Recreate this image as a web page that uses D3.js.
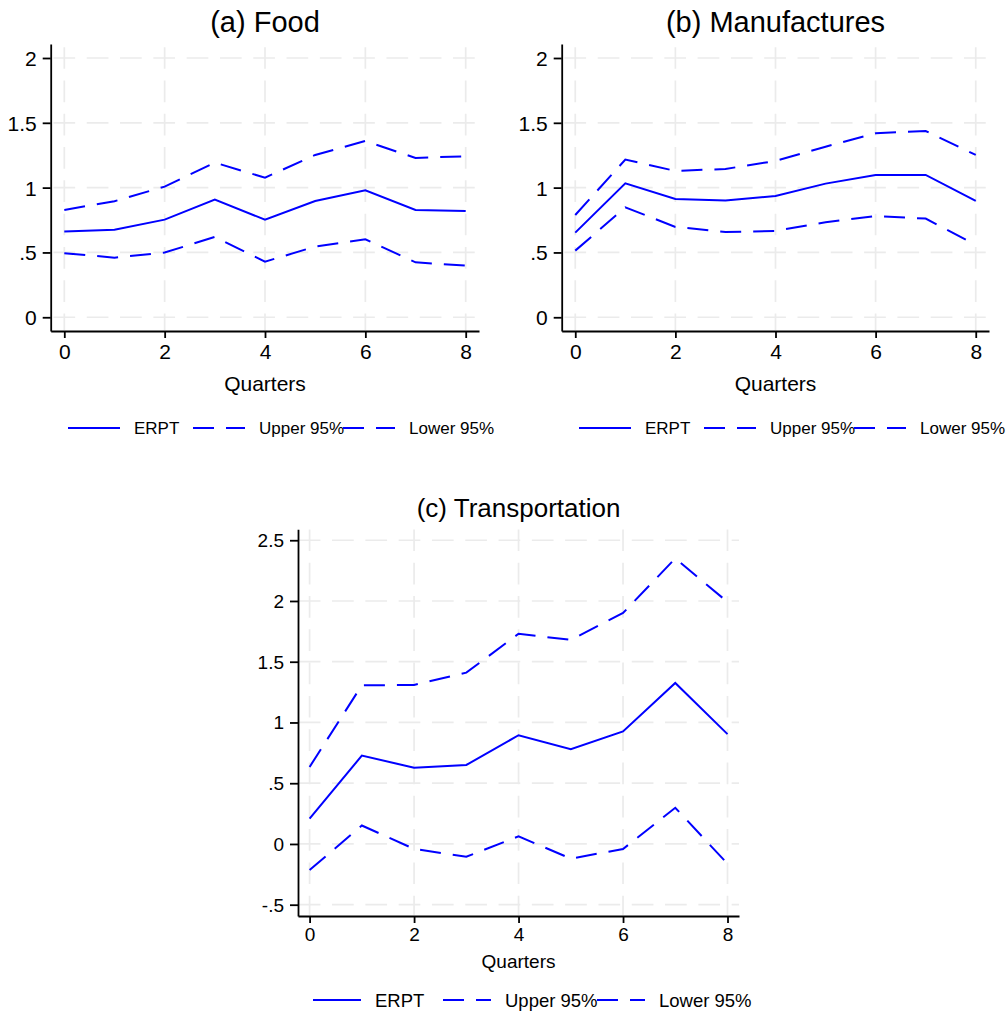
<!DOCTYPE html>
<html>
<head>
<meta charset="utf-8">
<script src="https://cdn.jsdelivr.net/npm/d3@7"></script>
<style>
  body { margin: 0; background: #fff; }
  text { font-family: Arial, "Liberation Sans", sans-serif; fill: #000; }
</style>
</head>
<body>
<div id="chart"></div>
<script>
"use strict";

const WIDTH = 1008, HEIGHT = 1013;

// quarters after the shock
var quarters = [0, 1, 2, 3, 4, 5, 6, 7, 8];
var seriesNames = ["ERPT", "Upper 95%", "Lower 95%"];

// (a) Food
var foodERPT  = [0.661, 0.676, 0.753, 0.907, 0.753, 0.897, 0.979, 0.828, 0.820];
var foodUpper = [0.828, 0.895, 1.008, 1.193, 1.077, 1.252, 1.360, 1.229, 1.242];
var foodLower = [0.494, 0.460, 0.499, 0.620, 0.429, 0.545, 0.602, 0.424, 0.398];

// (b) Manufactures
var manufERPT  = [0.653, 1.033, 0.913, 0.900, 0.936, 1.031, 1.098, 1.098, 0.897];
var manufUpper = [0.789, 1.216, 1.129, 1.144, 1.206, 1.316, 1.419, 1.437, 1.252];
var manufLower = [0.514, 0.848, 0.697, 0.658, 0.666, 0.733, 0.781, 0.761, 0.558];

// (c) Transportation
var transERPT  = [0.209, 0.727, 0.628, 0.650, 0.895, 0.780, 0.926, 1.325, 0.904];
var transUpper = [0.634, 1.306, 1.309, 1.410, 1.730, 1.680, 1.901, 2.350, 1.992];
var transLower = [-0.215, 0.152, -0.041, -0.105, 0.063, -0.121, -0.041, 0.298, -0.163];

// tick values and labels
var xTicks = [0, 2, 4, 6, 8];
var abYTicks = [0, 0.5, 1, 1.5, 2];
var abYLabels = ["0", ".5", "1", "1.5", "2"];
var cYTicks = [-0.5, 0, 0.5, 1, 1.5, 2, 2.5];
var cYLabels = ["-.5", "0", ".5", "1", "1.5", "2", "2.5"];

const BLUE = "#0000ff";
const DASH = "21,12";
const GRID_DASH = [21.7, 11.6];

var panels = [
  {
    title: "(a) Food", series: [foodERPT, foodUpper, foodLower],
    xDomain: [-0.271, 8.265], xRange: [50.7, 479],
    yDomain: [-0.106, 2.108], yRange: [331, 44],
    yTicks: abYTicks, yLabels: abYLabels,
    titleY: 22, tickLabY: 20.7, qY: 383, legendY: 428,
    titleSize: 29, tickSize: 21, qSize: 21, legendSize: 17,
    legendX: 68, legendOffsets: [0, 125, 275], legendLine: 52
  },
  {
    title: "(b) Manufactures", series: [manufERPT, manufUpper, manufLower],
    xDomain: [-0.271, 8.265], xRange: [561.7, 989],
    yDomain: [-0.106, 2.108], yRange: [331, 44],
    yTicks: abYTicks, yLabels: abYLabels,
    titleY: 22, tickLabY: 20.7, qY: 383, legendY: 428,
    titleSize: 29, tickSize: 21, qSize: 21, legendSize: 17,
    legendX: 579, legendOffsets: [0, 125, 275], legendLine: 52
  },
  {
    title: "(c) Transportation", series: [transERPT, transUpper, transLower],
    xDomain: [-0.222, 8.22], xRange: [298, 739],
    yDomain: [-0.593, 2.59], yRange: [916, 529.3],
    yTicks: cYTicks, yLabels: cYLabels,
    titleY: 508, tickLabY: 18.3, qY: 961, legendY: 1000,
    titleSize: 26, tickSize: 19, qSize: 19, legendSize: 18.5,
    legendX: 313, legendOffsets: [0, 130, 284], legendLine: 48
  }
];

var svg = d3.select("#chart").append("svg")
  .attr("width", WIDTH)
  .attr("height", HEIGHT);

// dash offset so that a grid dash is centred on distance p from the line start
function gridOffset(p) {
  var period = GRID_DASH[0] + GRID_DASH[1];
  return ((GRID_DASH[0] / 2 - p) % period + period) % period;
}

panels.forEach(function(P) {
  var x = d3.scaleLinear().domain(P.xDomain).range(P.xRange);
  var y = d3.scaleLinear().domain(P.yDomain).range(P.yRange);
  var g = svg.append("g");

  var left = P.xRange[0], right = P.xRange[1];
  var bottom = P.yRange[0], top = P.yRange[1];

  // grid
  var grid = g.append("g")
    .attr("stroke", "#ebebeb")
    .attr("stroke-width", 1.7)
    .attr("stroke-dasharray", GRID_DASH.join(","));
  grid.selectAll(".hg").data(P.yTicks).enter().append("line")
    .attr("x1", left + 1).attr("x2", right)
    .attr("y1", function(d) { return y(d); })
    .attr("y2", function(d) { return y(d); })
    .attr("stroke-dashoffset", gridOffset(x(0) - left - 1));
  grid.selectAll(".vg").data(xTicks).enter().append("line")
    .attr("x1", function(d) { return x(d); })
    .attr("x2", function(d) { return x(d); })
    .attr("y1", top).attr("y2", bottom - 1)
    .attr("stroke-dashoffset", gridOffset(y(P.yTicks[P.yTicks.length - 1]) - top));

  // axes
  var yAxis = g.append("g")
    .attr("transform", "translate(" + left + ",0)")
    .call(d3.axisLeft(y).tickValues(P.yTicks)
      .tickFormat(function(d, i) { return P.yLabels[i]; })
      .tickSize(8).tickSizeOuter(0).tickPadding(6));
  var xAxis = g.append("g")
    .attr("transform", "translate(0," + bottom + ")")
    .call(d3.axisBottom(x).tickValues(xTicks)
      .tickSize(7).tickSizeOuter(0));

  [yAxis, xAxis].forEach(function(a) {
    a.select(".domain").attr("stroke", "#000").attr("stroke-width", 1.8);
    a.selectAll(".tick line").attr("stroke", "#000").attr("stroke-width", 1.8);
    a.selectAll("text")
      .style("font-family", "Arial, 'Liberation Sans', sans-serif")
      .attr("font-size", P.tickSize).attr("fill", "#000");
  });
  yAxis.selectAll("text").attr("dy", null).attr("dominant-baseline", "central");
  xAxis.selectAll("text").attr("dy", null).attr("y", P.tickLabY)
    .attr("dominant-baseline", "central");

  // series
  var line = d3.line()
    .x(function(d, i) { return x(quarters[i]); })
    .y(function(d) { return y(d); });
  P.series.forEach(function(s, i) {
    g.append("path")
      .datum(s)
      .attr("fill", "none")
      .attr("stroke", BLUE)
      .attr("stroke-width", 2)
      .attr("stroke-dasharray", i === 0 ? null : DASH)
      .attr("d", line);
  });

  // titles
  var midX = (x(0) + x(8)) / 2;
  g.append("text")
    .attr("x", midX).attr("y", P.titleY)
    .attr("text-anchor", "middle").attr("dominant-baseline", "central")
    .attr("font-size", P.titleSize)
    .text(P.title);
  g.append("text")
    .attr("x", midX).attr("y", P.qY)
    .attr("text-anchor", "middle").attr("dominant-baseline", "central")
    .attr("font-size", P.qSize)
    .text("Quarters");

  // legend
  var leg = g.append("g");
  seriesNames.forEach(function(name, i) {
    var lx = P.legendX + P.legendOffsets[i];
    leg.append("line")
      .attr("x1", lx).attr("x2", lx + P.legendLine)
      .attr("y1", P.legendY).attr("y2", P.legendY)
      .attr("stroke", BLUE).attr("stroke-width", 2)
      .attr("stroke-dasharray", i === 0 ? null : DASH);
    leg.append("text")
      .attr("x", lx + P.legendLine + 14).attr("y", P.legendY)
      .attr("dominant-baseline", "central")
      .attr("font-size", P.legendSize)
      .text(name);
  });
});
</script>
</body>
</html>
